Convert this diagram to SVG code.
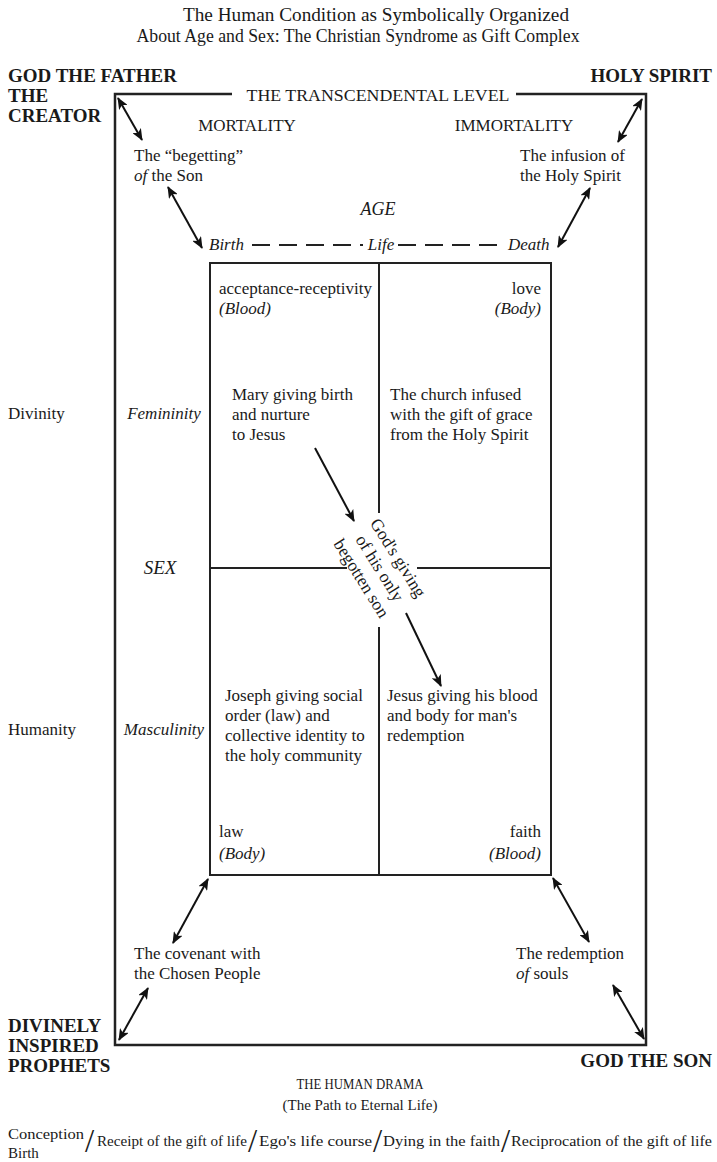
<svg xmlns="http://www.w3.org/2000/svg" width="717" height="1162" viewBox="0 0 717 1162">
<style>
text{font-family:"Liberation Serif","Times New Roman",serif;fill:#1a1a1a}
.t{font-size:18px}
.cap{font-size:19px;font-weight:bold}
.lvl{font-size:17px}
.b{font-size:17px}
.s{font-size:15px}
.i{font-style:italic}
.m{text-anchor:middle}
.e{text-anchor:end}
.frame{fill:none;stroke:#222;stroke-width:2.5}
.ln{stroke:#222;stroke-width:2;fill:none}
.arr{stroke:#111;stroke-width:2;fill:none;marker-start:url(#ah);marker-end:url(#ah)}
.one{stroke:#111;stroke-width:2;fill:none;marker-end:url(#ah)}
.dash{stroke:#222;stroke-width:2;stroke-dasharray:18 9;fill:none}
.sl{font-size:33px}
</style>
<defs>
<marker id="ah" viewBox="0 0 12 10" refX="11" refY="5" markerWidth="12" markerHeight="10" markerUnits="userSpaceOnUse" orient="auto-start-reverse">
<path d="M0,0 L12,5 L0,10 L3,5 Z" fill="#111"/>
</marker>
</defs>
<rect width="717" height="1162" fill="#fff"/>

<g id="title">
<text class="t m" x="376" y="21" textLength="386" lengthAdjust="spacingAndGlyphs">The Human Condition as Symbolically Organized</text>
<text class="t m" x="358" y="42" textLength="443" lengthAdjust="spacingAndGlyphs">About Age and Sex: The Christian Syndrome as Gift Complex</text>
</g>

<g id="frame">
<path class="frame" d="M232,94 L115,94 L115,1045 L646,1045 L646,94 L516,94"/>
</g>
<g id="transcendental">
<text class="lvl m" x="378" y="101" textLength="263" lengthAdjust="spacingAndGlyphs">THE TRANSCENDENTAL LEVEL</text>
</g>
<g id="god-father">
<text class="cap" x="8" y="82">GOD THE FATHER</text>
<text class="cap" x="8" y="102">THE</text>
<text class="cap" x="8" y="122">CREATOR</text>
</g>
<g id="holy-spirit"><text class="cap e" x="712" y="82">HOLY SPIRIT</text></g>
<g id="prophets">
<text class="cap" x="8" y="1032">DIVINELY</text>
<text class="cap" x="8" y="1052">INSPIRED</text>
<text class="cap" x="8" y="1072">PROPHETS</text>
</g>
<g id="god-son"><text class="cap e" x="712" y="1067">GOD THE SON</text></g>

<g id="mortality"><text class="lvl m" x="247" y="131">MORTALITY</text></g>
<g id="immortality"><text class="lvl m" x="514" y="131">IMMORTALITY</text></g>

<g id="begetting">
<text class="b" x="134" y="161">The “begetting”</text>
<text class="b" x="134" y="181"><tspan class="i">of</tspan> the Son</text>
</g>
<g id="infusion">
<text class="b" x="520" y="161">The infusion of</text>
<text class="b" x="520" y="181">the Holy Spirit</text>
</g>

<g id="age">
<text class="b i m" x="378" y="215" style="font-size:18px">AGE</text>
<text class="b i" x="209" y="250">Birth</text>
<text class="b i m" x="381" y="250">Life</text>
<text class="b i" x="508" y="250">Death</text>
</g>

<g id="quadrants">
<rect class="ln" x="210" y="263" width="341" height="612"/>
<line class="ln" x1="379" y1="263" x2="379" y2="513"/>
<line class="ln" x1="379" y1="627" x2="379" y2="875"/>
<line class="ln" x1="210" y1="568" x2="347" y2="568"/>
<line class="ln" x1="417" y1="568" x2="551" y2="568"/>
</g>

<g id="q-tl">
<text class="b" x="219" y="294">acceptance-receptivity</text>
<text class="b i" x="219" y="314">(Blood)</text>
<text class="b" x="232" y="400">Mary giving birth</text>
<text class="b" x="232" y="420">and nurture</text>
<text class="b" x="232" y="440">to Jesus</text>
</g>
<g id="q-tr">
<text class="b e" x="541" y="294">love</text>
<text class="b i e" x="541" y="314">(Body)</text>
<text class="b" x="390" y="400">The church infused</text>
<text class="b" x="390" y="420">with the gift of grace</text>
<text class="b" x="390" y="440">from the Holy Spirit</text>
</g>
<g id="q-bl">
<text class="b" x="225" y="701">Joseph giving social</text>
<text class="b" x="225" y="721">order (law) and</text>
<text class="b" x="225" y="741">collective identity to</text>
<text class="b" x="225" y="761">the holy community</text>
<text class="b" x="219" y="837">law</text>
<text class="b i" x="219" y="859">(Body)</text>
</g>
<g id="q-br">
<text class="b" x="387" y="701">Jesus giving his blood</text>
<text class="b" x="387" y="721">and body for man's</text>
<text class="b" x="387" y="741">redemption</text>
<text class="b e" x="541" y="837">faith</text>
<text class="b i e" x="541" y="859">(Blood)</text>
</g>

<g id="gods-giving" transform="translate(380,568) rotate(58)">
<text class="b m" x="1" y="-15" style="font-size:17.5px">God's giving</text>
<text class="b m" x="0" y="6" style="font-size:17.5px">of his only</text>
<text class="b m" x="-1" y="27" style="font-size:17.5px">begotten son</text>
</g>

<g id="sides">
<text class="b" x="8" y="419">Divinity</text>
<text class="b i m" x="164" y="419">Femininity</text>
<text class="b i m" x="160" y="574" style="font-size:19px">SEX</text>
<text class="b" x="8" y="735">Humanity</text>
<text class="b i m" x="164" y="735">Masculinity</text>
</g>

<g id="covenant">
<text class="b" x="134" y="959">The covenant with</text>
<text class="b" x="134" y="979">the Chosen People</text>
</g>
<g id="redemption">
<text class="b" x="516" y="959">The redemption</text>
<text class="b" x="516" y="979"><tspan class="i">of</tspan> souls</text>
</g>

<g id="human-drama">
<text class="s m" x="360" y="1089" textLength="127" lengthAdjust="spacingAndGlyphs">THE HUMAN DRAMA</text>
<text class="s m" x="360" y="1110">(The Path to Eternal Life)</text>
</g>

<g id="path">
<text class="s" x="8" y="1139" textLength="76" lengthAdjust="spacingAndGlyphs">Conception</text>
<text class="s" x="8" y="1158">Birth</text>
<text class="sl" x="85" y="1152">/</text>
<text class="s" x="97" y="1146" textLength="150" lengthAdjust="spacingAndGlyphs">Receipt of the gift of life</text>
<text class="sl" x="248" y="1152">/</text>
<text class="s" x="259" y="1146" textLength="113" lengthAdjust="spacingAndGlyphs">Ego's life course</text>
<text class="sl" x="373" y="1152">/</text>
<text class="s" x="383" y="1146" textLength="117" lengthAdjust="spacingAndGlyphs">Dying in the faith</text>
<text class="sl" x="501" y="1152">/</text>
<text class="s" x="511" y="1146" textLength="201" lengthAdjust="spacingAndGlyphs">Reciprocation of the gift of life</text>
</g>

<g id="connectors">
<line class="dash" x1="252" y1="245" x2="363" y2="245"/>
<line class="dash" x1="398" y1="245" x2="505" y2="245"/>
<line class="arr" x1="118" y1="98" x2="142" y2="140"/>
<line class="arr" x1="168" y1="187" x2="202" y2="248"/>
<line class="arr" x1="642" y1="99" x2="618" y2="142"/>
<line class="arr" x1="590" y1="188" x2="558" y2="247"/>
<line class="arr" x1="208" y1="879" x2="173" y2="943"/>
<line class="arr" x1="148" y1="988" x2="119" y2="1040"/>
<line class="arr" x1="553" y1="878" x2="589" y2="942"/>
<line class="arr" x1="613" y1="985" x2="644" y2="1039"/>
<line class="one" x1="315" y1="448" x2="354" y2="521"/>
<line class="one" x1="406" y1="613" x2="441" y2="686"/>
</g>
</svg>
